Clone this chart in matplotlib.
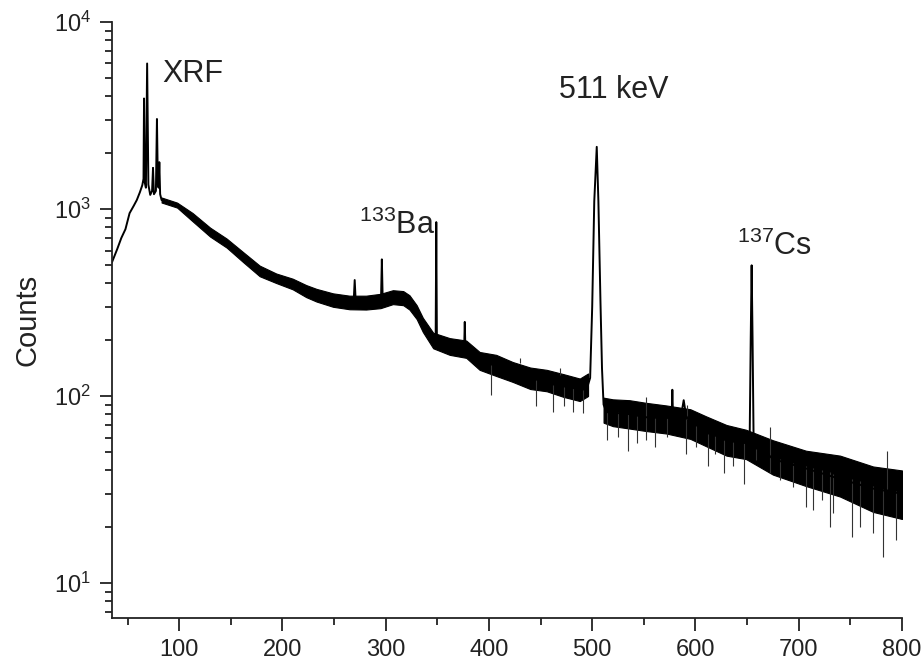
import matplotlib
matplotlib.use('Agg')
import matplotlib.pyplot as plt
import numpy as np

plt.rcParams['font.family'] = ['Liberation Sans', 'DejaVu Sans']
plt.rcParams['mathtext.fontset'] = 'custom'
plt.rcParams['mathtext.rm'] = 'Liberation Sans'
plt.rcParams['mathtext.default'] = 'regular'

# spectrum trace: energy (keV) and counts
line_energy = [35, 40, 44, 48, 52, 56, 59, 62, 64.3, 65.5, 66, 66.6, 67.8, 69, 70.2,
               72, 73.8, 74.7, 75.6, 77.5, 78.5, 79.4, 80.1, 80.8, 81.6, 83,
               98, 113, 130, 146, 162, 178, 194, 210, 223, 233, 249, 262, 269, 270,
               271, 281, 290, 295.5, 296.3, 297.1, 307, 317, 323, 330, 336, 342, 346,
               348.4, 349, 349.6, 352, 362, 376, 376.6, 377.2, 391, 407, 423, 440,
               456, 472, 488, 496, 498, 500, 502, 504.4, 506, 508, 509.5, 511, 514,
               536, 552, 572, 577, 577.6, 578.2, 583, 586, 588.6, 591, 595, 610, 630,
               649, 652.5, 653.5, 654.4, 655.3, 656.3, 675, 707, 740, 772, 800]
line_counts = [520, 610, 700, 780, 950, 1040, 1117, 1230, 1340, 1450, 3900, 1400, 1300,
               6000, 1350, 1190, 1250, 1660, 1200, 1250, 3030, 1350, 1300, 1780, 1200,
               1117, 1050, 906, 753, 658, 553, 466, 427, 397, 362, 347, 326, 318, 318,
               417, 318, 316, 320, 330, 538, 330, 340, 334, 316, 281, 240, 215, 200,
               198, 851, 198, 193, 184, 180, 249, 178, 155, 146, 134, 124, 121, 114,
               108, 115, 125, 300, 1100, 2150, 1100, 320, 140, 90, 82, 80, 77, 76, 80,
               108, 80, 68, 78, 95, 78, 73, 65, 58, 56, 60, 200, 500, 200, 58, 46, 41,
               36, 32, 30]

# width of the noisy continuum (lower / upper edge)
band1_energy = [83, 98, 113, 130, 146, 162, 178, 194, 210, 223, 233, 249, 265, 281, 295,
                307, 317, 323, 330, 336, 346, 362, 378, 391, 407, 423, 440, 456, 472,
                488, 496]
band1_low = [1083, 1018, 860, 712, 622, 520, 437, 402, 372, 338, 320, 300, 291, 290, 295,
             310, 306, 290, 258, 220, 180, 166, 160, 138, 128, 119, 109, 106, 99, 94, 100]
band1_high = [1152, 1082, 952, 795, 695, 588, 498, 452, 424, 392, 374, 354, 344, 344, 352,
              368, 364, 346, 306, 262, 218, 204, 198, 172, 166, 152, 142, 138, 131, 124, 132]

band2_energy = [511, 520, 536, 552, 572, 595, 610, 630, 649, 675, 707, 740, 772, 800]
band2_low = [72, 69, 67, 65, 63, 59, 54, 48, 46, 38, 33, 29, 24, 22]
band2_high = [98, 96, 95, 92, 89, 85, 78, 70, 66, 58, 51, 48, 42, 40]

# single-channel spikes sticking out of the band (energy, bottom, top)
spike_energy = [402, 430, 446, 462, 469, 473, 481, 491, 514, 525, 535, 543, 552.5,
                560.5, 572, 591, 592, 601, 612, 618.6, 628, 636, 646.6, 659, 672,
                672.5, 681.5, 694, 707, 713.7, 723, 730, 733, 752, 759, 772, 781.5,
                785, 794]
spike_low = [101, 150, 88, 82, 130, 88, 82, 81, 58, 60.5, 51, 56, 58, 53.6, 60.5, 49,
             75, 53.6, 42, 49, 38.7, 42, 34, 45.5, 38.7, 48, 35.5, 32.7, 25.6, 24.5, 27.8,
             20, 23.6, 17.7, 20, 18.5, 13.8, 32, 17]
spike_high = [146, 160, 122, 115, 141, 112, 110, 108, 82, 82, 80, 79, 99, 77, 76, 75,
              89, 70, 63, 61, 58, 57, 56, 52, 48, 68.5, 46, 44, 42, 41, 40, 39, 38.5, 36,
              35, 33, 32, 51, 31]

fig = plt.figure(figsize=(9.22, 6.59), dpi=100)
ax = fig.add_axes([0.1215, 0.0622, 0.8568, 0.9044])

ax.fill_between(band1_energy, band1_low, band1_high, color='black', lw=0.8)
ax.fill_between(band2_energy, band2_low, band2_high, color='black', lw=0.8)
ax.vlines(spike_energy, spike_low, spike_high, color='#333333', lw=0.8)
ax.plot(line_energy, line_counts, color='black', lw=1.4)

ax.set_yscale('log')
ax.set_xlim(35, 800)
ax.set_ylim(6.5, 1e4)
ax.set_xticks([100, 200, 300, 400, 500, 600, 700, 800])
ax.set_xticks([50, 150, 250, 350, 450, 550, 650, 750], minor=True)
ax.set_ylabel('Counts', fontsize=21, labelpad=9, color='#222222')

for side in ['top', 'right']:
    ax.spines[side].set_visible(False)
for side in ['left', 'bottom']:
    ax.spines[side].set_linewidth(1.3)
    ax.spines[side].set_color('#222222')
ax.tick_params(which='major', length=9, width=1.3, labelsize=17, colors='#222222', pad=6)
ax.tick_params(which='minor', length=5, width=1.3, colors='#222222')

ax.text(84, 4780, 'XRF', fontsize=22, va='baseline', color='#222222')
ax.text(521, 3930, '511 keV', fontsize=22, ha='center', va='baseline', color='#222222')
ax.text(274, 735, r'$^{133}$Ba', fontsize=22, va='baseline', color='#222222')
ax.text(640, 568, r'$^{137}$Cs', fontsize=22, va='baseline', color='#222222')

fig.savefig('out.png', dpi=100)
